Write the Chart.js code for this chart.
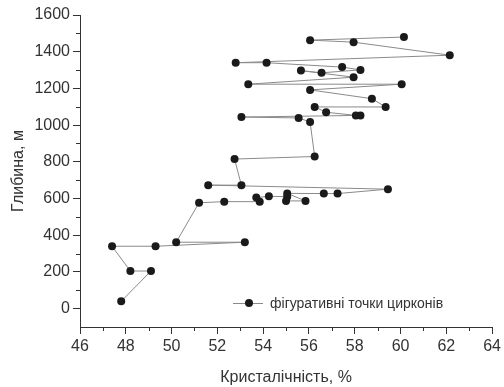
<!DOCTYPE html>
<html>
<head>
<meta charset="utf-8">
<script src="https://cdn.jsdelivr.net/npm/chart.js@4/dist/chart.umd.min.js"></script>
<style>
  body { margin: 0; background: #fff; }
  #wrap { position: relative; width: 504px; height: 387px; }
  #legend { position: absolute; left: 233px; top: 295px; font: 14px "Liberation Sans", Arial, sans-serif; color: #333; display: flex; align-items: center; }
  #legend .mark { position: relative; width: 30px; height: 1px; background: #8a8a8a; margin-right: 7px; }
  #legend .mark i { position: absolute; left: 12px; top: -4px; width: 8px; height: 8px; border-radius: 50%; background: #1a1a1a; }
</style>
</head>
<body>
<div id="wrap">
  <canvas id="myChart" width="504" height="387"></canvas>
  <div id="legend"></div>
</div>
<script>
// values, in drawing order
var crystallinity = [47.8, 49.1, 48.2, 47.4, 49.3, 53.2, 50.2, 51.2, 52.3, 53.85,
  53.7, 54.25, 55.05, 55.0, 55.85, 55.05, 56.65, 57.25, 59.45, 51.6,
  53.05, 52.75, 56.25, 56.05, 55.55, 53.05, 58.25, 58.05, 56.75, 56.25,
  59.35, 58.75, 56.05, 60.05, 53.35, 57.95, 55.65, 56.55, 58.25, 57.45,
  54.15, 52.8, 62.15, 57.95, 56.05, 60.15];
var depth = [40, 205, 205, 340, 340, 362, 362, 577, 583, 583,
  605, 612, 610, 587, 587, 628, 627, 627, 651, 673,
  673, 815, 829, 1017, 1039, 1044, 1053, 1053, 1070, 1099,
  1099, 1144, 1192, 1223, 1223, 1261, 1297, 1285, 1301, 1316,
  1340, 1340, 1381, 1452, 1463, 1480];
var seriesLabel = "фігуративні точки цирконів";
var xTitle = "Кристалічність, %";
var yTitle = "Глибина, м";

var points = [];
for (var i = 0; i < depth.length; i++) {
  points.push({ x: crystallinity[i], y: depth[i] });
}

var axisColor = "#333";
var tickFont = { family: "'Liberation Sans', Arial, sans-serif", size: 16 };
var titleFont = { family: "'Liberation Sans', Arial, sans-serif", size: 16 };

// short minor ticks between the labelled ones
var minorTicks = {
  id: "minorTicks",
  afterDraw: function (chart) {
    var c = chart.ctx;
    var xs = chart.scales.x, ys = chart.scales.y;
    c.save();
    c.strokeStyle = axisColor;
    c.lineWidth = 1;
    c.beginPath();
    for (var v = 47; v < 64; v += 2) {
      var px = Math.round(xs.getPixelForValue(v)) + 0.5;
      c.moveTo(px, ys.bottom);
      c.lineTo(px, ys.bottom + 4);
    }
    for (var w = 100; w < 1600; w += 200) {
      var py = Math.round(ys.getPixelForValue(w)) + 0.5;
      c.moveTo(xs.left, py);
      c.lineTo(xs.left - 4, py);
    }
    c.stroke();
    c.restore();
  }
};

var ctx = document.getElementById("myChart").getContext("2d");
var myChart = new Chart(ctx, {
  type: "scatter",
  data: {
    datasets: [{
      label: seriesLabel,
      data: points,
      showLine: true,
      borderColor: "#8a8a8a",
      borderWidth: 1,
      pointRadius: 4,
      pointHoverRadius: 4,
      pointBackgroundColor: "#1a1a1a",
      pointBorderColor: "#1a1a1a",
      pointBorderWidth: 0
    }]
  },
  options: {
    responsive: false,
    animation: false,
    layout: { padding: { top: 15, right: 6, left: 0, bottom: 0 } },
    plugins: { legend: { display: false }, tooltip: { enabled: false } },
    scales: {
      x: {
        type: "linear",
        min: 46,
        max: 64,
        afterFit: function (s) { s.height = 60; },
        ticks: { stepSize: 2, color: axisColor, font: tickFont, padding: 3, maxRotation: 0,
          callback: function (v) { return String(v); } },
        grid: { drawOnChartArea: false, tickLength: 7, tickColor: axisColor },
        border: { color: axisColor, width: 1 },
        title: { display: true, text: xTitle, color: axisColor, font: titleFont, padding: { top: 0, bottom: 0 } }
      },
      y: {
        type: "linear",
        min: -100,
        max: 1600,
        afterFit: function (s) { s.width = 80; },
        afterBuildTicks: function (s) {
          s.ticks = s.ticks.filter(function (t) { return t.value % 200 === 0; });
        },
        ticks: { stepSize: 200, color: axisColor, font: tickFont, padding: 3,
          callback: function (v) { return String(v); } },
        grid: { drawOnChartArea: false, tickLength: 7, tickColor: axisColor },
        border: { color: axisColor, width: 1 },
        title: { display: true, text: yTitle, color: axisColor, font: titleFont, padding: { top: 9, bottom: 0 } }
      }
    }
  },
  plugins: [minorTicks]
});

document.getElementById("legend").innerHTML =
  '<span class="mark"><i></i></span><span>' + seriesLabel + '</span>';
</script>
</body>
</html>
